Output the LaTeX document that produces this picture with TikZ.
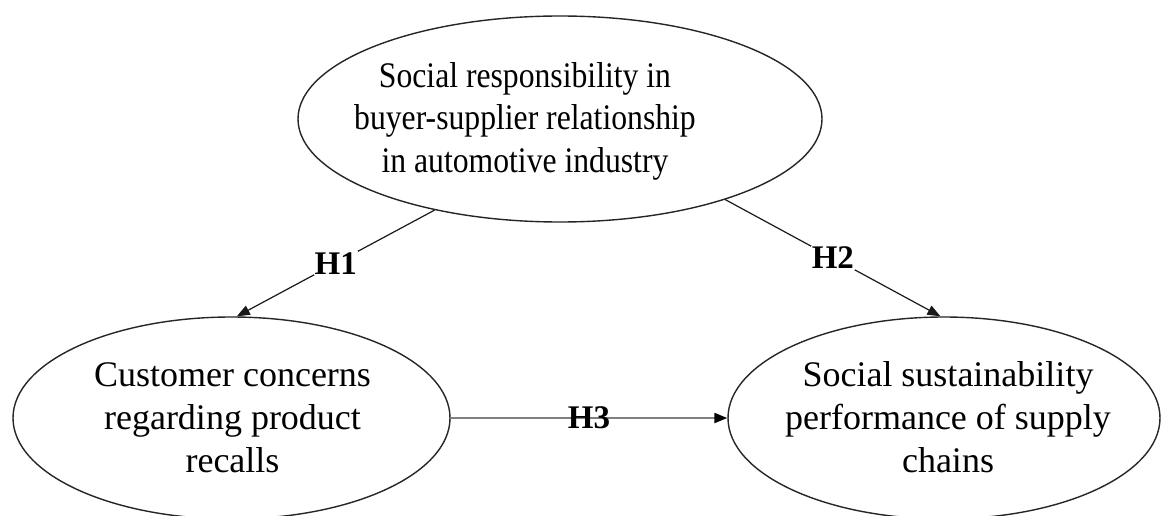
\documentclass[tikz,border=0pt]{standalone}
\usepackage{fontspec}
\setmainfont{Liberation Serif}
\newfontfamily\narrowserif{Liberation Serif}[FakeStretch=0.88]
\usetikzlibrary{shapes.geometric,arrows.meta}
\begin{document}
\begin{tikzpicture}[x=1pt,y=-1pt,
  oval/.style={ellipse, draw=black!85, line width=1.4pt, inner sep=0pt},
  ovaltext/.style={align=center, inner sep=0pt, font=\fontsize{36}{43}\selectfont},
  link/.style={line width=1.2pt, draw=black!90, -{Triangle[length=13pt,width=10pt]}},
  graylink/.style={line width=2.2pt, draw=black!50, -{Triangle[length=13pt,width=10pt,fill=black,color=black]}},
  hyp/.style={inner sep=1pt, font=\bfseries\fontsize{33}{36}\selectfont}
]
\useasboundingbox (0,0) rectangle (1162,516);
\fill[white] (0,0) rectangle (1162,516);
\node[oval, minimum width=524pt, minimum height=206pt] (top) at (560,119) {};
\node[oval, minimum width=437pt, minimum height=202pt] (left) at (231.5,418) {};
\node[oval, minimum width=432pt, minimum height=202pt] (right) at (944,418) {};
\node[ovaltext, font=\narrowserif\fontsize{36}{42.5}\selectfont] (toptext) at (525,121)
  {Social responsibility in\\buyer-supplier relationship\\in automotive industry};
\node[ovaltext] (lefttext) at (232.5,418)
  {Customer concerns\\regarding product\\recalls};
\node[ovaltext] (righttext) at (948,417.5)
  {Social sustainability\\performance of supply\\chains};
\draw[link] (top.216.7) -- node[midway, fill=white, hyp] (h1) {H1} (left.87);
\draw[link] (top.334.4) -- node[midway, fill=white, hyp] (h2) {H2} (right.92);
\draw[graylink] (left.east) -- node[midway, hyp] (h3) {H3} (right.west);
\end{tikzpicture}
\end{document}
